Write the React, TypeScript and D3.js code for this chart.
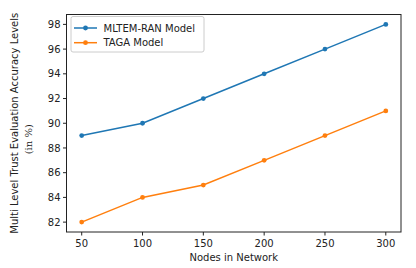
import React from 'react';
import * as d3 from 'd3';

const nodes = [50, 100, 150, 200, 250, 300];
const mltemRan = [89, 90, 92, 94, 96, 98];
const taga = [82, 84, 85, 87, 89, 91];
const yTicks = [82, 84, 86, 88, 90, 92, 94, 96, 98];

const series = [
  { name: 'MLTEM-RAN Model', values: mltemRan, color: '#1f77b4' },
  { name: 'TAGA Model', values: taga, color: '#ff7f0e' }
];

const W = 416,
  H = 268;
const margin = { top: 14.5, right: 15, bottom: 36, left: 66.5 };
const font = 'DejaVu Sans, sans-serif';

const App: React.FC = () => {
  const x = d3.scaleLinear().domain([37.5, 312.5]).range([margin.left, W - margin.right]);
  const y = d3.scaleLinear().domain([81.2, 98.8]).range([H - margin.bottom, margin.top]);
  const line = d3
    .line<number>()
    .x((_, i) => x(nodes[i]))
    .y((d) => y(d));
  const bottom = H - margin.bottom;

  return (
    <svg
      width={W}
      height={H}
      style={{ position: 'absolute', left: 0, top: 0, background: '#fff' }}
      fontFamily={font}
    >
      {/* lines */}
      {series.map((s) => (
        <g key={s.name}>
          <path d={line(s.values) || ''} fill="none" stroke={s.color} strokeWidth={1.5} />
          {s.values.map((v, i) => (
            <circle key={i} cx={x(nodes[i])} cy={y(v)} r={2.4} fill={s.color} />
          ))}
        </g>
      ))}

      {/* frame */}
      <rect
        x={margin.left}
        y={margin.top}
        width={W - margin.left - margin.right}
        height={bottom - margin.top}
        fill="none"
        stroke="#222"
        strokeWidth={1}
      />

      {/* x ticks */}
      {nodes.map((n) => (
        <g key={n}>
          <line x1={x(n)} x2={x(n)} y1={bottom} y2={bottom + 3.5} stroke="#222" />
          <text x={x(n)} y={bottom + 15} fontSize={10} textAnchor="middle" fill="#222">
            {n}
          </text>
        </g>
      ))}
      {/* y ticks */}
      {yTicks.map((t) => (
        <g key={t}>
          <line x1={margin.left - 3.5} x2={margin.left} y1={y(t)} y2={y(t)} stroke="#222" />
          <text x={margin.left - 6} y={y(t) + 3.6} fontSize={10} textAnchor="end" fill="#222">
            {t}
          </text>
        </g>
      ))}

      {/* axis labels */}
      <text x={x(175)} y={261} fontSize={10} textAnchor="middle" fill="#222">
        Nodes in Network
      </text>
      <text
        transform={`translate(17.5,${(margin.top + bottom) / 2}) rotate(-90)`}
        fontSize={10}
        textAnchor="middle"
        fill="#222"
      >
        Multi Level Trust Evaluation Accuracy Levels
      </text>
      <text
        transform={`translate(32,${(margin.top + bottom) / 2 + 16}) rotate(-90)`}
        fontSize={10}
        textAnchor="middle"
        fill="#222"
        fontFamily="DejaVu Serif, serif"
      >
        (in %)
      </text>

      {/* legend */}
      <rect x={71} y={16.5} width={133} height={35.5} rx={2} fill="#fff" fillOpacity={0.8} stroke="#ccc" />
      {series.map((s, i) => {
        const ly = 28 + i * 14.7;
        return (
          <g key={s.name}>
            <line x1={74} x2={97} y1={ly} y2={ly} stroke={s.color} strokeWidth={1.5} />
            <circle cx={85.5} cy={ly} r={2.4} fill={s.color} />
            <text x={103.5} y={ly + 3.6} fontSize={10} fill="#222">
              {s.name}
            </text>
          </g>
        );
      })}
    </svg>
  );
};

export default App;
